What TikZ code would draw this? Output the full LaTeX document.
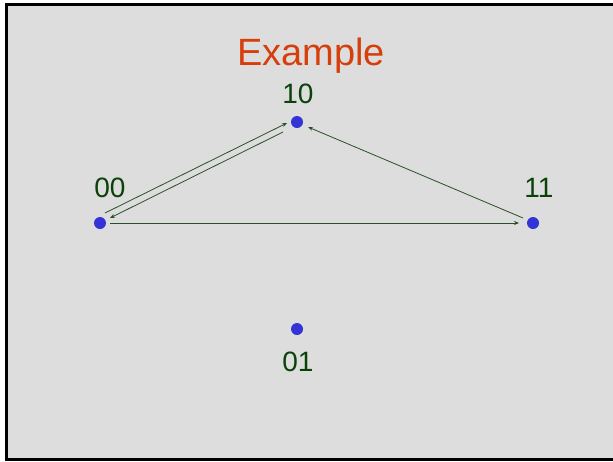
\documentclass[tikz,border=0pt]{standalone}
\usepackage{fontspec}
\setmainfont{Liberation Sans}
\usetikzlibrary{arrows.meta}
\definecolor{bg}{RGB}{221,221,221}
\definecolor{lab}{RGB}{10,66,10}
\definecolor{edge}{RGB}{40,80,40}
\definecolor{title}{RGB}{214,62,12}
\definecolor{dot}{RGB}{52,52,214}
\tikzset{
  vert/.style={circle,fill=dot,inner sep=0pt,minimum size=12pt},
  lbl/.style={text=lab,font=\fontsize{28}{32}\selectfont,inner sep=0pt},
  conn/.style={draw=edge,line width=0.8pt,-{Stealth[length=5pt,width=4pt]}}
}
\begin{document}
\begin{tikzpicture}[x=1pt,y=-1pt]
\useasboundingbox (0,0) rectangle (613,461);
\clip (0,0) rectangle (613,461);
\fill[white] (0,0) rectangle (613,461);
\draw[line width=2.5pt,fill=bg] (6.5,4.5) rectangle (630,459.5);
\node[text=title,font=\fontsize{38}{42}\selectfont,inner sep=0pt] (title) at (311,56) {Example};
\node[vert] (n10) at (297,122) {};
\node[vert] (n00) at (100,223) {};
\node[vert] (n11) at (533,223) {};
\node[vert] (n01) at (297,329) {};
\node[lbl] (l10) at (298,94) {10};
\node[lbl] (l00) at (110,188) {00};
\node[lbl] (l11) at (539,188) {11};
\node[lbl] (l01) at (298,362) {01};
\draw[conn] ([xshift=5pt,yshift=10pt]n00.center) -- ([xshift=-10pt,yshift=-1pt]n10.center);
\draw[conn] ([xshift=-14pt,yshift=-10pt]n10.center) -- ([xshift=10pt,yshift=5pt]n00.center);
\draw[conn] ([xshift=-10pt,yshift=5pt]n11.center) -- ([xshift=11pt,yshift=-5pt]n10.center);
\draw[conn] ([xshift=10pt]n00.center) -- ([xshift=-14pt]n11.center);
\end{tikzpicture}
\end{document}
